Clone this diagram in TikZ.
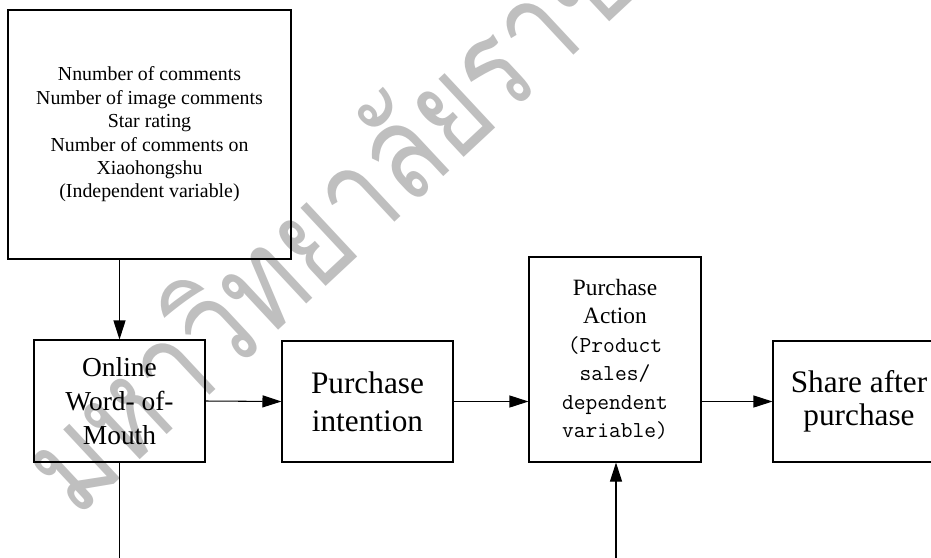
\documentclass[tikz,border=0pt]{standalone}
\usepackage{fontspec}
\setmainfont{Liberation Serif}
\newfontfamily\thaifont[Script=Thai]{Loma}
\usepackage{tikz}
\usetikzlibrary{positioning,arrows.meta,calc}

\begin{document}
\begin{tikzpicture}[
    blk/.style={draw, line width=0.6pt, inner sep=0pt, align=center},
    arr/.style={line width=0.6pt, -{Triangle[length=0.38cm,width=0.24cm]}}
  ]
    \useasboundingbox (0,0) rectangle (18.62,-11.14);
    \clip (0,0) rectangle (18.62,-11.14);

    % watermark
    \node[anchor=base west, rotate=43, xscale=0.8, text=black!25,
      font=\thaifont\fontsize{76}{76}\selectfont] (wm) at (1.45,-10.45)
      {มหาวิทยาลัยราชภัฏ};

    \node[blk, minimum width=5.66cm, minimum height=4.98cm,
      font=\fontsize{11.3}{13.3}\selectfont] (ind) at (2.99,-2.69)
      {Nnumber of comments\\Number of image comments\\Star rating\\Number of comments on\\Xiaohongshu\\(Independent variable)};

    \node[blk, minimum width=3.42cm, minimum height=2.44cm,
      font=\fontsize{15.6}{19.3}\selectfont] (wom) at (2.39,-8.02)
      {Online\\Word- of-\\Mouth};
    \node[blk, minimum width=3.42cm, minimum height=2.42cm,
      font=\fontsize{17.8}{21.7}\selectfont] (intent) at (7.35,-8.03)
      {Purchase\\intention};
    \node[blk, minimum width=3.44cm, minimum height=4.10cm,
      font=\fontsize{13.3}{16.2}\selectfont] (action) at (12.30,-7.19)
      {Purchase\\Action\\{\ttfamily\fontsize{13}{16.2}\selectfont (Product}\\{\ttfamily\fontsize{13}{16.2}\selectfont sales/}\\{\ttfamily\fontsize{13}{16.2}\selectfont dependent}\\{\ttfamily\fontsize{13}{16.2}\selectfont variable)}};
    \node[blk, minimum width=3.44cm, minimum height=2.42cm,
      font=\fontsize{17.8}{18.9}\selectfont] (share) at (17.18,-8.03)
      {Share after\\purchase};

    \coordinate (womend) at (2.39,-11.2);
    \coordinate (actstart) at (12.32,-11.2);

    \draw[arr] (ind.south -| wom.north) -- (wom.north);
    \draw[arr] (wom.east) -- (intent.west);
    \draw[arr] (intent.east) -- (intent.east -| action.west);
    \draw[arr] (action.east |- share.west) -- (share.west);
    \draw[line width=0.6pt] (wom.south) -- (womend);
    \draw[arr] (actstart) -- (actstart |- action.south);
\end{tikzpicture}
\end{document}
